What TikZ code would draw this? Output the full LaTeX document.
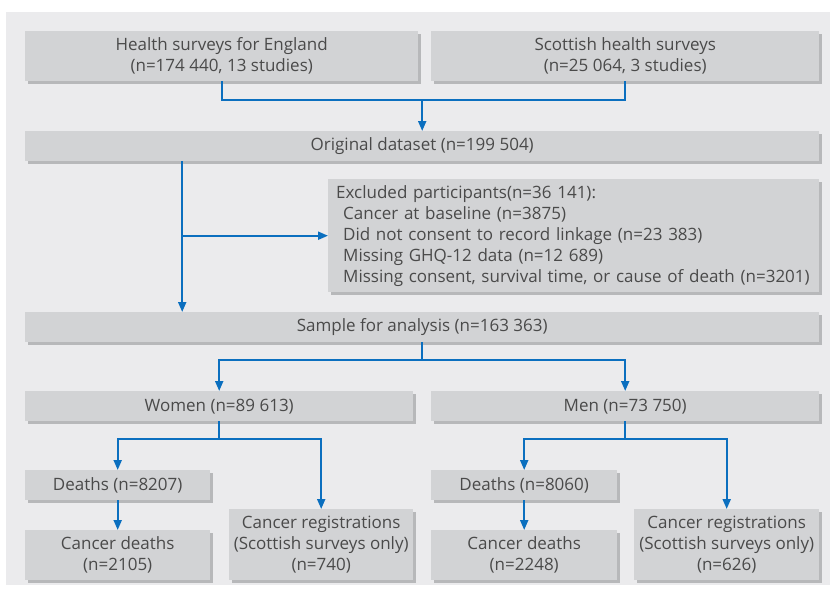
\documentclass[tikz,border=0pt]{standalone}
\usepackage{fontspec}
\setmainfont{Open Sans}
\usetikzlibrary{arrows.meta,shadows}
\definecolor{panel}{HTML}{EBEBED}
\definecolor{boxfill}{HTML}{D2D3D5}
\definecolor{shadowc}{HTML}{B7B8BA}
\definecolor{txt}{HTML}{4A4A4A}
\definecolor{flow}{HTML}{0B6FBF}
\begin{document}
\begin{tikzpicture}[x=1pt,y=-1pt,
  font=\fontsize{17}{21}\selectfont,
  bx/.style={fill=boxfill, text=txt, inner sep=0pt, anchor=north west, align=center,
    general shadow={fill=shadowc, shadow xshift=2.5pt, shadow yshift=-2.5pt}},
  ln/.style={draw=flow, line width=2pt},
  ar/.style={ln, -{Triangle[length=10pt,width=8pt]}}]
\useasboundingbox (0,0) rectangle (830,592);
\fill[panel] (6,12) rectangle (830,585);
% boxes
\node[bx, minimum width=393pt, minimum height=50pt] (hse) at (25,31) {Health surveys for England\\(n=174~440, 13 studies)};
\node[bx, minimum width=388pt, minimum height=50pt] (scot) at (431,31) {Scottish health surveys\\(n=25~064, 3 studies)};
\node[bx, minimum width=794pt, minimum height=30pt] (orig) at (25,131) {Original dataset (n=199~504)};
\node[bx, minimum width=491pt, minimum height=113pt, text width=475pt, align=left, inner xsep=8pt] (excl) at (328,179)
 {Excluded participants(n=36~141):\\
  \hspace*{7pt}Cancer at baseline (n=3875)\\
  \hspace*{7pt}Did not consent to record linkage (n=23~383)\\
  \hspace*{7pt}Missing GHQ-12 data (n=12~689)\\
  \hspace*{7pt}Missing consent, survival time, or cause of death (n=3201)};
\node[bx, minimum width=794pt, minimum height=30pt] (samp) at (25,312) {Sample for analysis (n=163~363)};
\node[bx, minimum width=388pt, minimum height=30pt] (women) at (25,391) {Women (n=89~613)};
\node[bx, minimum width=388pt, minimum height=30pt] (men) at (431,391) {Men (n=73~750)};
\node[bx, minimum width=185pt, minimum height=30pt] (dw) at (25,470) {Deaths (n=8207)};
\node[bx, minimum width=185pt, minimum height=50pt] (cdw) at (25,530) {Cancer deaths\\(n=2105)};
\node[bx, minimum width=184pt, minimum height=71pt] (crw) at (229,509) {Cancer registrations\\(Scottish surveys only)\\(n=740)};
\node[bx, minimum width=186pt, minimum height=30pt] (dm) at (431,470) {Deaths (n=8060)};
\node[bx, minimum width=186pt, minimum height=50pt] (cdm) at (431,530) {Cancer deaths\\(n=2248)};
\node[bx, minimum width=185pt, minimum height=71pt] (crm) at (634,509) {Cancer registrations\\(Scottish surveys only)\\(n=626)};
% connectors
\coordinate (j1) at (orig.north |- 0,100);
\draw[ln] (hse.south) |- (j1) -| (scot.south);
\draw[ar] (j1) -- (orig.north);
\coordinate (o1) at ([xshift=-240pt]orig.south);
\coordinate (s1) at (o1 |- samp.north);
\draw[ar] (o1) -- (s1);
\draw[ar] (o1 |- excl.west) -- (excl.west);
\draw[ln] (samp.south) -- ++(0,18) coordinate (j2);
\draw[ar] (j2) -| (women.north);
\draw[ar] (j2) -| (men.north);
\draw[ln] (women.south) -- ++(0,18) coordinate (j3);
\draw[ar] (j3) -| (dw.north);
\draw[ar] (j3) -| (crw.north);
\draw[ln] (men.south) -- ++(0,18) coordinate (j4);
\draw[ar] (j4) -| (dm.north);
\draw[ar] (j4) -| (crm.north);
\draw[ar] (dw.south) -- (cdw.north);
\draw[ar] (dm.south) -- (cdm.north);
\end{tikzpicture}
\end{document}
